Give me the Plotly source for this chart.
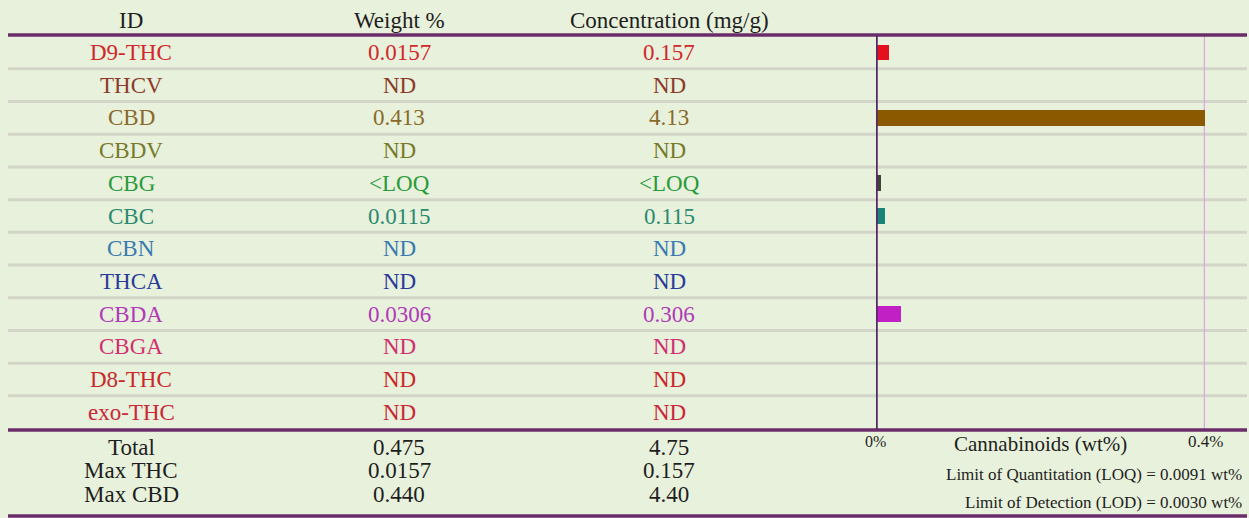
import plotly.graph_objects as go

# ---------------- data ----------------
analytes = ["D9-THC", "THCV", "CBD", "CBDV", "CBG", "CBC", "CBN", "THCA",
            "CBDA", "CBGA", "D8-THC", "exo-THC"]
weight_pct = ["0.0157", "ND", "0.413", "ND", "&lt;LOQ", "0.0115", "ND", "ND",
              "0.0306", "ND", "ND", "ND"]
conc_mg_g = ["0.157", "ND", "4.13", "ND", "&lt;LOQ", "0.115", "ND", "ND",
             "0.306", "ND", "ND", "ND"]
bar_values = [0.0157, 0, 0.413, 0, 0.006, 0.0115, 0, 0, 0.0306, 0, 0, 0]
text_colors = ["#d0282c", "#8c3a2a", "#8a6a2a", "#777a2a", "#2a9a3a", "#2a8a70",
               "#3a7ab0", "#2a3a9a", "#b03ab8", "#d03070", "#c8282a", "#c82838"]
bar_colors = ["#e4101c", "#8b5a00", "#8b5a00", "#777a2a", "#3c443c", "#1a8478",
              "#3a7ab0", "#2a3a9a", "#c020c4", "#d03070", "#c8282a", "#c82838"]
summary_labels = ["Total", "Max THC", "Max CBD"]
summary_weight = ["0.475", "0.0157", "0.440"]
summary_conc = ["4.75", "0.157", "4.40"]
headers = ["ID", "Weight %", "Concentration (mg/g)"]
axis_max = 0.4
x_title = "Cannabinoids (wt%)"
x_tick_labels = ["0%", "0.4%"]
loq_text = "Limit of Quantitation (LOQ) = 0.0091 wt%"
lod_text = "Limit of Detection (LOD) = 0.0030 wt%"

# ---------------- layout helpers ----------------
W, H = 1249, 518
FONT = "Liberation Serif"
PURPLE = "#6b2c6b"
row0_px, pitch_px = 52.5, 32.7


def px_to_row(py):
    return (py - row0_px) / pitch_px


col_x = [131 / W, 399 / W, 669 / W]
idx = list(range(len(analytes)))

fig = go.Figure()
fig.add_trace(go.Bar(
    x=bar_values, y=idx, orientation="h", width=0.48,
    marker=dict(color=bar_colors, line=dict(width=0)),
    hoverinfo="skip", showlegend=False,
))

annotations = []
# headers
for cx, h in zip(col_x, headers):
    annotations.append(dict(x=cx, y=px_to_row(20), xref="paper", yref="y", text=h,
                            showarrow=False, font=dict(family=FONT, size=23, color="#1e1e1e"),
                            xanchor="center", yanchor="middle"))
# rows
for i, (a, w, c, col) in enumerate(zip(analytes, weight_pct, conc_mg_g, text_colors)):
    for cx, t in zip(col_x, [a, w, c]):
        annotations.append(dict(x=cx, y=i, xref="paper", yref="y", text=t, showarrow=False,
                                font=dict(family=FONT, size=23, color=col),
                                xanchor="center", yanchor="middle"))
# summary rows
summary_px = [447, 470.5, 494]
for py, lab, w, c in zip(summary_px, summary_labels, summary_weight, summary_conc):
    for cx, t in zip(col_x, [lab, w, c]):
        annotations.append(dict(x=cx, y=px_to_row(py), xref="paper", yref="y", text=t,
                                showarrow=False, font=dict(family=FONT, size=23, color="#1e1e1e"),
                                xanchor="center", yanchor="middle"))
# axis labels
annotations.append(dict(x=0, y=px_to_row(441), xref="x", yref="y", text=x_tick_labels[0],
                        showarrow=False, font=dict(family=FONT, size=16, color="#1e1e1e"),
                        xanchor="center", yanchor="middle"))
annotations.append(dict(x=axis_max, y=px_to_row(441), xref="x", yref="y", text=x_tick_labels[1],
                        showarrow=False, font=dict(family=FONT, size=17, color="#1e1e1e"),
                        xanchor="center", yanchor="middle"))
annotations.append(dict(x=1040 / W, y=px_to_row(444), xref="paper", yref="y", text=x_title,
                        showarrow=False, font=dict(family=FONT, size=21, color="#1e1e1e"),
                        xanchor="center", yanchor="middle"))
annotations.append(dict(x=1244 / W, y=px_to_row(474), xref="paper", yref="y", text=loq_text,
                        showarrow=False, font=dict(family=FONT, size=17, color="#1e1e1e"),
                        xanchor="right", yanchor="middle"))
annotations.append(dict(x=1244 / W, y=px_to_row(502), xref="paper", yref="y", text=lod_text,
                        showarrow=False, font=dict(family=FONT, size=17, color="#1e1e1e"),
                        xanchor="right", yanchor="middle"))

shapes = []
# grey row separators
for i in idx[:-1]:
    shapes.append(dict(type="line", xref="paper", yref="y", x0=8 / W, x1=1247 / W,
                       y0=i + 0.5, y1=i + 0.5, line=dict(color="#d2d5c8", width=3), layer="below"))
# purple rules
for py in [35, 430, 516]:
    shapes.append(dict(type="line", xref="paper", yref="y", x0=8 / W, x1=1247 / W,
                       y0=px_to_row(py), y1=px_to_row(py), line=dict(color=PURPLE, width=3.5)))
# 0.4% guide line (pink)
shapes.append(dict(type="line", xref="x", yref="y", x0=axis_max, x1=axis_max,
                   y0=px_to_row(35), y1=px_to_row(430), line=dict(color="#e2a2e6", width=2.5),
                   layer="below"))
# zero axis line
shapes.append(dict(type="line", xref="x", yref="y", x0=0, x1=0,
                   y0=px_to_row(35), y1=px_to_row(430), line=dict(color="#56286a", width=3.5)))

fig.update_layout(
    width=W, height=H,
    margin=dict(l=0, r=0, t=0, b=0),
    paper_bgcolor="#e8f1db",
    plot_bgcolor="rgba(0,0,0,0)",
    xaxis=dict(domain=[876 / W, 1205 / W], range=[0, axis_max], visible=False, fixedrange=True),
    yaxis=dict(domain=[0, 1], range=[px_to_row(H), px_to_row(0)], visible=False, fixedrange=True),
    annotations=annotations,
    shapes=shapes,
    showlegend=False,
    bargap=0,
)

fig.write_html(
    "out.html",
    config={"displayModeBar": False},
    post_script="document.body.style.margin='0';document.body.style.overflow='hidden';",
)
